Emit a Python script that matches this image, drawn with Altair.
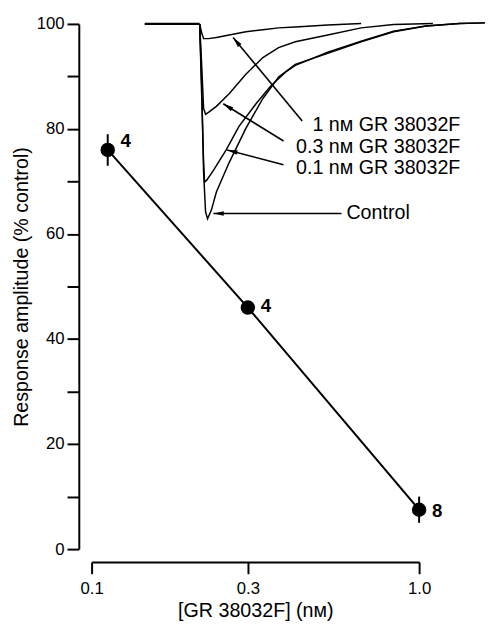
import math
import altair as alt
import pandas as pd

# ---- dose-response data ----
conc = [0.112, 0.3, 1.0]
resp = [76.0, 46.0, 7.5]
err = [3.0, 1.0, 2.5]
n_cells = ["4", "4", "8"]
label_y = [77.6, 46.2, 7.3]

# ---- inset current traces (time in arbitrary ms, amplitude on the same % axis) ----
base_t = [16.2, 33.0]
base_y = [100.0, 100.0]

ctrl_t = [33.0, 33.6, 34.2, 34.8, 35.4, 36.6, 38.1, 42.0, 47.1, 52.3, 57.1, 62.2, 72.1, 82.3, 92.2, 102.1, 112.3, 120.1]
ctrl_y = [100.0, 88.6, 71.7, 64.2, 62.9, 64.6, 68.0, 73.6, 80.1, 85.8, 89.9, 92.3, 94.4, 96.6, 98.5, 99.6, 100.1, 100.2]

p01_t = [33.0, 33.6, 34.2, 34.5, 35.1, 37.2, 41.1, 45.0, 50.2, 54.7, 59.2, 62.2, 72.1, 82.3, 92.2, 102.1, 112.3, 120.1]
p01_y = [100.0, 86.7, 73.6, 69.9, 70.2, 72.1, 76.0, 80.5, 84.8, 88.2, 90.8, 92.1, 94.6, 96.7, 98.6, 99.6, 100.1, 100.2]

p03_t = [33.0, 33.6, 34.2, 34.8, 36.0, 38.1, 42.0, 47.1, 52.3, 57.1, 62.2, 72.1, 82.3, 92.2, 104.2]
p03_y = [100.0, 92.3, 83.9, 82.8, 83.3, 84.3, 86.7, 90.4, 93.6, 95.5, 96.6, 97.9, 99.25, 99.9, 100.1]

p1_t = [33.0, 33.6, 34.2, 35.7, 38.1, 42.0, 47.1, 52.3, 57.1, 62.2, 72.1, 82.3]
p1_y = [100.0, 98.3, 97.2, 97.2, 97.4, 97.9, 98.5, 98.9, 99.25, 99.4, 99.8, 100.1]

# ---- annotations ----
ann_text = ["1 nм GR 38032F", "0.3 nм GR 38032F", "0.1 nм GR 38032F"]
ann_t = [112.6, 112.6, 112.6]
ann_y = [80.7, 76.6, 72.5]
ctrl_label = ["Control"]
ctrl_label_t = [77.8]
ctrl_label_y = [64.0]

arrow_tail_t = [64.3, 58.6, 58.6, 76.3]
arrow_tail_y = [81.5, 77.7, 73.2, 63.9]
arrow_head_t = [43.2, 40.2, 41.4, 37.2]
arrow_head_y = [97.4, 84.8, 76.0, 63.9]

FONT = "Liberation Sans"
W, H = 333, 534

# ---------- dose-response layers ----------
pts = pd.DataFrame({
    "conc": conc, "resp": resp,
    "lo": [r - e for r, e in zip(resp, err)],
    "hi": [r + e for r, e in zip(resp, err)],
    "n": n_cells, "ly": label_y,
})

log_scale = alt.Scale(type="log", domain=[0.1, 1.0], nice=False)
x_log = alt.X(
    "conc:Q", scale=log_scale,
    axis=alt.Axis(values=[0.1, 0.3, 1.0], format=".1f", title="[GR 38032F] (nм)",
                  offset=13, tickSize=12, labelPadding=7, titlePadding=5,
                  labelFlush=False),
)
x_log_noaxis = alt.X("conc:Q", scale=log_scale, axis=None)
y_scale = alt.Scale(domain=[0, 100], nice=False, zero=False)
y_lin = alt.Y(
    "resp:Q", scale=y_scale,
    axis=alt.Axis(values=list(range(0, 101, 10)),
                  labelExpr="datum.value % 20 == 0 ? datum.label : ''",
                  title="Response amplitude (% control)",
                  offset=13, tickSize=12, labelPadding=3, titlePadding=5),
)

pbase = alt.Chart(pts)
p_line = pbase.mark_line(color="black", strokeWidth=2).encode(x=x_log, y=y_lin)
p_err = pbase.mark_rule(color="black", strokeWidth=2).encode(x=x_log_noaxis, y="lo:Q", y2="hi:Q")
p_dot = pbase.mark_point(filled=True, shape="circle", size=215, color="black", opacity=1).encode(
    x=x_log_noaxis, y="resp:Q")
p_num = pbase.mark_text(align="left", baseline="middle", dx=13, font=FONT, fontSize=19,
                        fontWeight="bold", color="black").encode(
    x=x_log_noaxis, y="ly:Q", text="n:N")

# ---------- trace layers ----------
rows = []
for name, ts, ys in [("control", ctrl_t, ctrl_y), ("0.1", p01_t, p01_y),
                     ("0.3", p03_t, p03_y), ("1", p1_t, p1_y)]:
    for i, (t, y) in enumerate(zip(ts, ys)):
        rows.append({"trace": name, "order": i, "t": t, "resp": y})
tr = pd.DataFrame(rows)
bl = pd.DataFrame({"t": base_t, "resp": base_y})

t_scale = alt.Scale(domain=[0, 100], nice=False, zero=False)
xt = alt.X("t:Q", scale=t_scale, axis=None)

traces = alt.Chart(tr).mark_line(color="black", strokeWidth=1.5).encode(
    x=xt, y="resp:Q", detail="trace:N", order="order:Q")
baseline = alt.Chart(bl).mark_line(color="black", strokeWidth=2.4).encode(x=xt, y="resp:Q")

ang = []
for tt, ty, ht, hy in zip(arrow_tail_t, arrow_tail_y, arrow_head_t, arrow_head_y):
    dxp = (ht - tt) * W / 100.0
    dyp = -(hy - ty) * H / 100.0
    ang.append(math.degrees(math.atan2(dxp, -dyp)) % 360)
ar = pd.DataFrame({"t": arrow_tail_t, "resp": arrow_tail_y,
                   "t2": arrow_head_t, "resp2": arrow_head_y,
                   "ang": ang})
arrows = alt.Chart(ar).mark_rule(color="black", strokeWidth=1.6).encode(
    x=xt, y="resp:Q", x2="t2:Q", y2="resp2:Q")
heads = alt.Chart(ar).mark_point(shape="M0,0L0.45,2L-0.45,2Z", filled=True, size=110,
                                 color="black", opacity=1).encode(
    x=alt.X("t2:Q", scale=t_scale, axis=None), y="resp2:Q",
    angle=alt.Angle("ang:Q", scale=None))

at = pd.DataFrame({"t": ann_t, "resp": ann_y, "txt": ann_text})
ann = alt.Chart(at).mark_text(align="right", baseline="middle", font=FONT, fontSize=20,
                              color="black").encode(x=xt, y="resp:Q", text="txt:N")
ct = pd.DataFrame({"t": ctrl_label_t, "resp": ctrl_label_y, "txt": ctrl_label})
ann_c = alt.Chart(ct).mark_text(align="left", baseline="middle", font=FONT, fontSize=20,
                                color="black").encode(x=xt, y="resp:Q", text="txt:N")

chart = alt.layer(
    p_line, p_err, p_dot, p_num, baseline, traces, arrows, heads, ann, ann_c
).resolve_scale(x="independent").properties(
    width=W, height=H,
    autosize=alt.AutoSizeParams(type="none"),
    padding={"left": 85, "top": 11, "right": 67, "bottom": 74},
).configure_axis(
    grid=False, domainColor="black", domainWidth=2, tickColor="black", tickWidth=2,
    labelFont=FONT, labelFontSize=17, labelColor="black",
    titleFont=FONT, titleFontSize=20, titleColor="black", titleFontWeight="normal",
).configure_view(strokeWidth=0)

chart.save("out.html", embed_options={"renderer": "svg", "actions": False})
